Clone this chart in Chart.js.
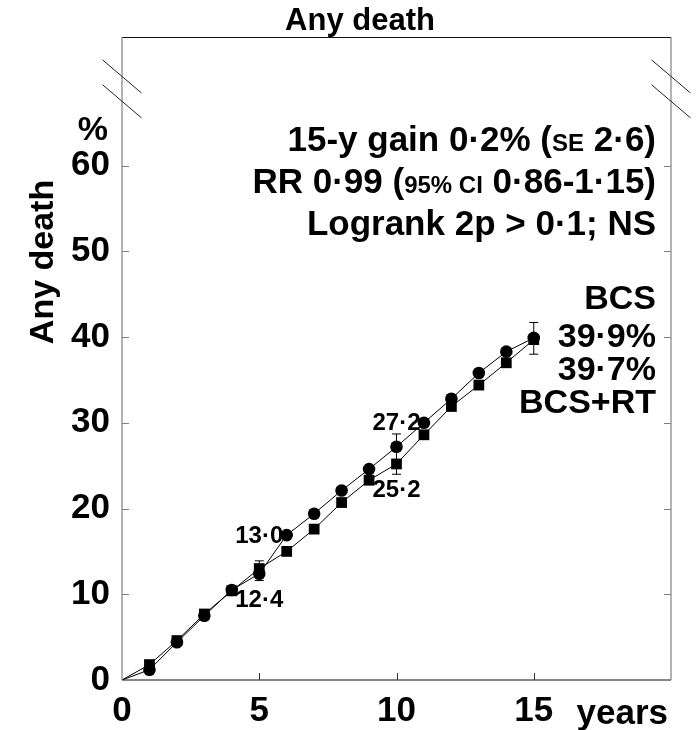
<!DOCTYPE html>
<html><head><meta charset="utf-8">
<script src="https://cdn.jsdelivr.net/npm/chart.js@4/dist/chart.umd.min.js"></script>
<style>html,body{margin:0;padding:0;background:#fff;}#wrap{width:696px;height:730px;}</style>
</head><body><div id="wrap"><canvas id="c" width="696" height="730"></canvas></div>
<script>
const years = [0,1,2,3,4,5,6,7,8,9,10,11,12,13,14,15];
const bcs   = [0,1.2,4.4,7.5,10.5,12.4,16.9,19.4,22.1,24.6,27.2,30.0,32.8,35.8,38.3,39.9];
const bcsRt = [0,1.8,4.6,7.7,10.4,13.0,15.0,17.6,20.7,23.3,25.2,28.6,31.9,34.4,37.0,39.7];
const errYears = [5,10,15];
const errLow  = [11.6,24.0,38.0];
const errHigh = [13.9,28.7,41.7];
const xTicks = [0,5,10,15];
const yTicks = [0,10,20,30,40,50,60];
const valueLabels = [
  {x:5,  y:13.0, text:'13·0', pos:'above'},
  {x:5,  y:12.4, text:'12·4', pos:'below'},
  {x:10, y:27.2, text:'27·2', pos:'above'},
  {x:10, y:25.2, text:'25·2', pos:'below'}
];
const FONT = '"Liberation Sans", Arial, Helvetica, sans-serif';

const decor = {
  id:'decor',
  afterDraw(chart){
    const {ctx, chartArea:a, scales:{x, y}} = chart;
    ctx.save();
    // frame
    ctx.lineWidth = 1.2;
    ctx.strokeStyle = '#111';
    ctx.beginPath(); ctx.moveTo(a.left, a.top+0.5); ctx.lineTo(a.right, a.top+0.5); ctx.stroke();
    ctx.beginPath(); ctx.moveTo(a.left, a.bottom); ctx.lineTo(a.right, a.bottom); ctx.stroke();
    ctx.strokeStyle = '#808080';
    ctx.beginPath(); ctx.moveTo(a.left, a.top); ctx.lineTo(a.left, a.bottom); ctx.stroke();
    ctx.beginPath(); ctx.moveTo(a.right, a.top); ctx.lineTo(a.right, a.bottom); ctx.stroke();
    // inward ticks
    ctx.lineWidth = 1;
    yTicks.forEach(v => {
      if (v === 0) return;
      const py = Math.round(y.getPixelForValue(v)) + 0.5;
      ctx.beginPath(); ctx.moveTo(a.left, py); ctx.lineTo(a.left+7, py); ctx.stroke();
      ctx.beginPath(); ctx.moveTo(a.right, py); ctx.lineTo(a.right-7, py); ctx.stroke();
    });
    ctx.strokeStyle = '#333';
    xTicks.forEach(v => {
      if (v === 0) return;
      const px = Math.round(x.getPixelForValue(v)) + 0.5;
      ctx.beginPath(); ctx.moveTo(px, a.bottom); ctx.lineTo(px, a.bottom-7); ctx.stroke();
    });
    // axis break marks
    ctx.strokeStyle = '#222';
    ctx.lineWidth = 1;
    [a.left, a.right].forEach(cx => {
      [70.4, 67.5].forEach(v => {
        const cy = y.getPixelForValue(v);
        ctx.beginPath(); ctx.moveTo(cx-19.5, cy-16.6); ctx.lineTo(cx+19.5, cy+16.6); ctx.stroke();
      });
    });
    // error bars
    ctx.strokeStyle = '#000';
    errYears.forEach((yr, i) => {
      const px = x.getPixelForValue(yr);
      const p1 = y.getPixelForValue(errLow[i]);
      const p2 = y.getPixelForValue(errHigh[i]);
      ctx.beginPath(); ctx.moveTo(px, p1); ctx.lineTo(px, p2);
      ctx.moveTo(px-4.5, p1); ctx.lineTo(px+4.5, p1);
      ctx.moveTo(px-4.5, p2); ctx.lineTo(px+4.5, p2);
      ctx.stroke();
    });
    // texts
    ctx.fillStyle = '#000';
    ctx.textBaseline = 'alphabetic';
    ctx.font = 'bold 31px ' + FONT;
    ctx.textAlign = 'center';
    ctx.fillText('Any death', 360, 30);
    ctx.textAlign = 'right';
    ctx.font = 'bold 34px ' + FONT;
    ctx.fillText('%', 108, 140);
    ctx.textAlign = 'right';
    ctx.font = 'bold 35px ' + FONT;
    ctx.fillText('years', 668, 724);
    // y title
    ctx.save();
    ctx.translate(53, 262);
    ctx.rotate(-Math.PI/2);
    ctx.textAlign = 'center';
    ctx.font = 'bold 34px ' + FONT;
    ctx.fillText('Any death', 0, 0);
    ctx.restore();
    // annotations (right aligned, mixed sizes)
    const big = 'bold 35px ' + FONT, small = 'bold 24px ' + FONT;
    const lines = [
      {b:151, segs:[['15-y gain 0·2% (', big], ['SE', small], [' 2·6)', big]]},
      {b:193, segs:[['RR 0·99 (', big], ['95% CI', small], [' 0·86-1·15)', big]]},
      {b:235, segs:[['Logrank 2p > 0·1; NS', big]]}
    ];
    ctx.textAlign = 'left';
    lines.forEach(l => {
      let w = 0;
      l.segs.forEach(s => { ctx.font = s[1]; w += ctx.measureText(s[0]).width; });
      let cx = 656 - w;
      l.segs.forEach(s => { ctx.font = s[1]; ctx.fillText(s[0], cx, l.b); cx += ctx.measureText(s[0]).width; });
    });
    ctx.textAlign = 'right';
    ctx.font = 'bold 34px ' + FONT;
    ctx.fillText('BCS', 656, 309);
    ctx.fillText(bcs[bcs.length-1].toFixed(1).replace('.', '·') + '%', 656, 347);
    ctx.fillText(bcsRt[bcsRt.length-1].toFixed(1).replace('.', '·') + '%', 656, 380);
    ctx.fillText('BCS+RT', 656, 413);
    // value labels
    ctx.font = 'bold 24px ' + FONT;
    ctx.textAlign = 'center';
    valueLabels.forEach(l => {
      const px = x.getPixelForValue(l.x), py = y.getPixelForValue(l.y);
      if (l.x === 5) {
        if (l.pos === 'above') ctx.fillText(l.text, px, py - 26);
        else ctx.fillText(l.text, px, py + 33);
      } else {
        if (l.pos === 'above') ctx.fillText(l.text, px, py - 17);
        else ctx.fillText(l.text, px, py + 33);
      }
    });
    ctx.restore();
  }
};

new Chart(document.getElementById('c'), {
  type: 'line',
  data: {
    datasets: [
      { label:'BCS', data: years.map((v,i)=>({x:v, y:bcs[i]})),
        borderColor:'#000', borderWidth:1, backgroundColor:'#000',
        pointStyle:'circle', pointRadius: c => c.dataIndex === 0 ? 0 : 6.3,
        pointBackgroundColor:'#000', pointBorderWidth:0, tension:0 },
      { label:'BCS+RT', data: years.map((v,i)=>({x:v, y:bcsRt[i]})),
        borderColor:'#000', borderWidth:1, backgroundColor:'#000',
        pointStyle:'rect', pointRadius: c => c.dataIndex === 0 ? 0 : 7.6,
        pointBackgroundColor:'#000', pointBorderWidth:0, tension:0 }
    ]
  },
  options: {
    responsive:false, animation:false, devicePixelRatio:1,
    layout:{ padding:{ left:0, right:25, top:37, bottom:0 } },
    plugins:{ legend:{display:false}, tooltip:{enabled:false} },
    scales:{
      x:{ type:'linear', min:0, max:20,
        afterBuildTicks: s => { s.ticks = xTicks.map(v => ({value:v})); },
        afterFit: s => { s.height = 50; },
        grid:{ display:false, drawTicks:false }, border:{ display:false },
        ticks:{ color:'#000', padding:10, maxRotation:0, autoSkip:false,
          font:{ family:FONT, size:35, weight:'bold' } } },
      y:{ type:'linear', min:0, max:75,
        afterBuildTicks: s => { s.ticks = yTicks.map(v => ({value:v})); },
        afterFit: s => { s.width = 122; },
        grid:{ display:false, drawTicks:false }, border:{ display:false },
        ticks:{ color:'#000', padding:12, autoSkip:false,
          font:{ family:FONT, size:35, weight:'bold' } } }
    }
  },
  plugins:[decor]
});
</script></body></html>
